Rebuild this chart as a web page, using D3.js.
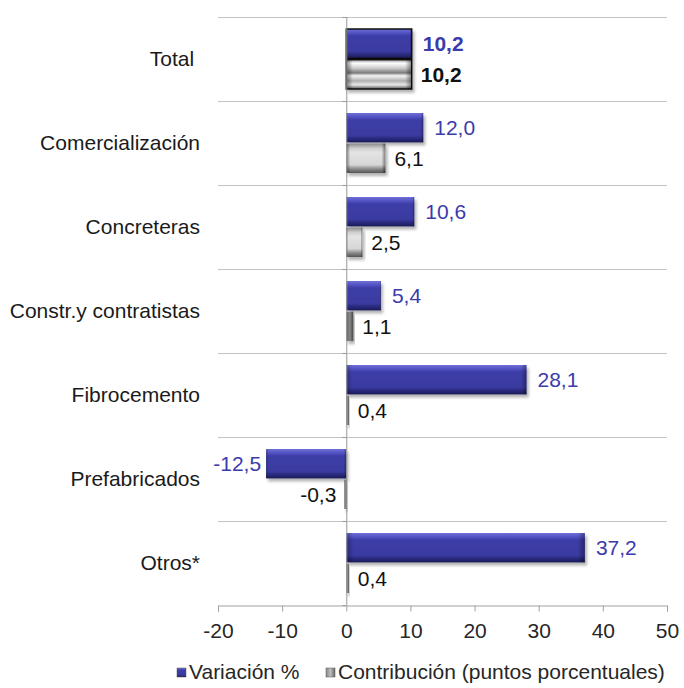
<!DOCTYPE html>
<html><head><meta charset="utf-8">
<script src="https://cdn.jsdelivr.net/npm/d3@7"></script>
<style>
html,body{margin:0;padding:0;background:#fff;}
text{font-family:"Liberation Sans",Arial,sans-serif;}
</style></head>
<body>
<svg id="chart" width="684" height="688"></svg>
<script>
const categories = ["Total ", "Comercialización", "Concreteras", "Constr.y contratistas", "Fibrocemento", "Prefabricados", "Otros*"];
const variacion = [10.2, 12.0, 10.6, 5.4, 28.1, -12.5, 37.2];
const contribucion = [10.2, 6.1, 2.5, 1.1, 0.4, -0.3, 0.4];
const seriesNames = ["Variación %", "Contribución (puntos porcentuales)"];
const xTicks = [-20, -10, 0, 10, 20, 30, 40, 50];

const svg = d3.select("#chart");
const margin = {left: 218, right: 17, top: 17, bottom: 83};
const W = 684, H = 688;
const FS = 21;
const x = d3.scaleLinear().domain([-20, 50]).range([margin.left, W - margin.right]);
const y = d3.scaleBand().domain(categories).range([margin.top, H - margin.bottom]);
const inner = d3.scaleBand().domain([0, 1]).range([12, y.bandwidth() - 12]).paddingInner(0.04);
const fmt = v => d3.format(".1f")(v).replace(".", ",").replace("\u2212", "-");

const defs = svg.append("defs");
function grad(id, stops, horiz) {
  const g = defs.append("linearGradient").attr("id", id)
    .attr("x1", 0).attr("y1", 0).attr("x2", horiz ? 1 : 0).attr("y2", horiz ? 0 : 1);
  stops.forEach(s => g.append("stop").attr("offset", s[0]).attr("stop-color", s[1]).attr("stop-opacity", s[2] == null ? 1 : s[2]));
}
grad("blueV", [[0, "#7070da"], [0.16, "#4c4cbc"], [0.24, "#3d3da8"], [0.76, "#3a3aa0"], [0.86, "#2b2b80"], [1, "#1c1c58"]]);
grad("blueH", [[0, "#000", 0.3], [0.03, "#000", 0], [0.97, "#000", 0], [1, "#000", 0.35]], true);
grad("greyV", [[0, "#8a8a8a"], [0.16, "#cfcfcf"], [0.3, "#e4e4e4"], [0.72, "#d6d6d6"], [0.86, "#8a8a8a"], [1, "#555"]]);
grad("greyThin", [[0, "#555"], [0.5, "#8a8a8a"], [1, "#444"]], true);
grad("greyLeg", [[0, "#888"], [0.5, "#bdbdbd"], [1, "#666"]], true);
grad("greyTot", [[0, "#8a8a8a"], [0.12, "#ffffff"], [0.3, "#c8c8c8"], [0.45, "#7a7a7a"], [0.55, "#f4f4f4"], [0.72, "#b0b0b0"], [0.86, "#e8e8e8"], [1, "#555"]]);
grad("greyH", [[0, "#000", 0.45], [0.1, "#000", 0], [0.9, "#000", 0], [1, "#000", 0.45]], true);
const f = defs.append("filter").attr("id", "sh").attr("x", "-20%").attr("y", "-30%").attr("width", "140%").attr("height", "170%");
f.append("feDropShadow").attr("dx", 2).attr("dy", 3).attr("stdDeviation", 1.6).attr("flood-color", "#000").attr("flood-opacity", 0.3);

// gridlines (category separators)
const bounds = categories.map(c => y(c)).concat([H - margin.bottom]);
svg.append("g").selectAll("line").data(bounds.slice(0, -1)).join("line")
  .attr("x1", x(-20)).attr("x2", x(50)).attr("y1", d => d + 0.5).attr("y2", d => d + 0.5)
  .attr("stroke", "#c4c4c4").attr("stroke-width", 1);
svg.append("g").selectAll("line").data(bounds).join("line")
  .attr("x1", x(0) - 4).attr("x2", x(0)).attr("y1", d => d + 0.5).attr("y2", d => d + 0.5)
  .attr("stroke", "#999");

// x axis
const xAxis = d3.axisBottom(x).tickValues(xTicks).tickSize(6).tickPadding(12).tickFormat(d => String(d));
const gx = svg.append("g").attr("transform", `translate(0,${H - margin.bottom + 0.5})`).call(xAxis);
gx.select(".domain").attr("stroke", "#a0a0a0");
gx.selectAll(".tick line").attr("stroke", "#a0a0a0");
gx.selectAll(".tick text").attr("font-size", FS).attr("fill", "#262626").attr("font-family", "'Liberation Sans',Arial,sans-serif");

// category labels
svg.append("g").selectAll("text").data(categories).join("text")
  .attr("x", 200).attr("y", d => y(d) + y.bandwidth() / 2).attr("dy", "0.35em")
  .attr("text-anchor", "end").attr("font-size", FS).attr("fill", "#1a1a1a")
  .style("white-space", "pre").text(d => d);

// bars
const rows = [];
categories.forEach((c, i) => {
  rows.push({c, i, s: 0, v: variacion[i]});
  rows.push({c, i, s: 1, v: contribucion[i]});
});
const gb = svg.append("g");
rows.forEach(r => {
  const x0 = Math.min(x(0), x(r.v)), w = Math.max(Math.abs(x(r.v) - x(0)), 2.5);
  const yy = y(r.c) + inner(r.s), h = inner.bandwidth();
  const g = gb.append("g").attr("filter", "url(#sh)");
  const isTot = r.i === 0;
  const thin = w < 9;
  g.append("rect").attr("x", x0).attr("y", yy).attr("width", w).attr("height", h)
    .attr("fill", r.s === 0 ? "url(#blueV)" : (isTot ? "url(#greyTot)" : (thin ? "url(#greyThin)" : "url(#greyV)")))
    .attr("stroke", isTot ? "#111" : "none").attr("stroke-width", isTot ? 1.5 : 0);
  if (!thin) g.append("rect").attr("x", x0).attr("y", yy).attr("width", w).attr("height", h)
    .attr("fill", r.s === 0 ? "url(#blueH)" : "url(#greyH)");
  const neg = r.v < 0;
  svg.append("text")
    .attr("x", neg ? x(r.v) - (r.s === 0 ? 5 : 8) : x(r.v) + (r.s === 0 ? 11 : 9))
    .attr("y", yy + h / 2).attr("dy", "0.35em")
    .attr("text-anchor", neg ? "end" : "start")
    .attr("font-size", FS)
    .attr("font-weight", isTot ? "bold" : "normal")
    .attr("fill", r.s === 0 ? "#3b3bab" : "#111")
    .text(fmt(r.v));
});

// zero line
svg.append("line").attr("x1", x(0) + 0.5).attr("x2", x(0) + 0.5)
  .attr("y1", margin.top).attr("y2", H - margin.bottom).attr("stroke", "#999");

// legend
const leg = svg.append("g");
const legItems = [{n: seriesNames[0], x: 177, fill: "url(#blueV)"}, {n: seriesNames[1], x: 326, fill: "url(#greyLeg)"}];
legItems.forEach(d => {
  leg.append("rect").attr("x", d.x).attr("y", 668).attr("width", 9).attr("height", 9)
    .attr("fill", d.fill).attr("stroke", "#555").attr("stroke-width", 0.5);
  leg.append("text").attr("x", d.x + 12).attr("y", 679).attr("font-size", FS).attr("fill", "#262626").text(d.n);
});
</script>
</body></html>
